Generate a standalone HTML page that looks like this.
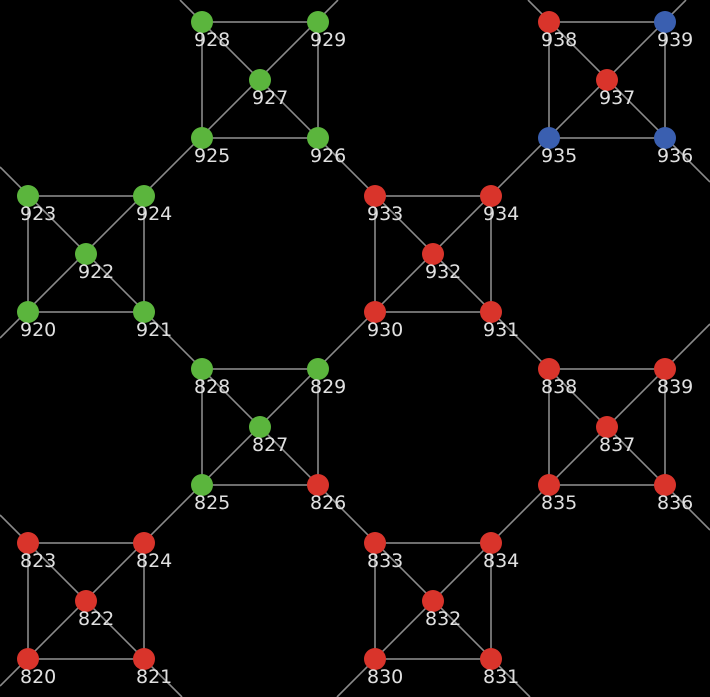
<!DOCTYPE html>
<html><head><style>
html,body{margin:0;padding:0;background:#000;}
svg{display:block;}
text{font-family:"DejaVu Sans","Liberation Sans",sans-serif;font-size:19px;fill:#e0e0e0;}
</style></head><body>
<svg width="710" height="697" viewBox="0 0 710 697" xmlns="http://www.w3.org/2000/svg">
<g stroke="#8a8a8a" stroke-width="1.6" fill="none">
<!-- x-y const lines (down-right) -->
<line x1="528" y1="0" x2="710" y2="182"/>
<line x1="180" y1="0" x2="710" y2="530"/>
<line x1="0" y1="167" x2="530" y2="697"/>
<line x1="0" y1="515" x2="182" y2="697"/>
<!-- x+y const lines (down-left) -->
<line x1="338" y1="0" x2="0" y2="338"/>
<line x1="686" y1="0" x2="0" y2="686"/>
<line x1="710" y1="324" x2="337" y2="697"/>
<!-- squares -->
<rect x="202" y="22" width="116" height="116"/>
<rect x="549" y="22" width="116" height="116"/>
<rect x="28" y="196" width="116" height="116"/>
<rect x="375" y="196" width="116" height="116"/>
<rect x="202" y="369" width="116" height="116"/>
<rect x="549" y="369" width="116" height="116"/>
<rect x="28" y="543" width="116" height="116"/>
<rect x="375" y="543" width="116" height="116"/>
</g>
<g>
<circle cx="202" cy="22" r="11" fill="#5bb53d"/><circle cx="318" cy="22" r="11" fill="#5bb53d"/><circle cx="260" cy="80" r="11" fill="#5bb53d"/><circle cx="202" cy="138" r="11" fill="#5bb53d"/><circle cx="318" cy="138" r="11" fill="#5bb53d"/>
<circle cx="549" cy="22" r="11" fill="#d9342b"/><circle cx="665" cy="22" r="11" fill="#3a5fb0"/><circle cx="607" cy="80" r="11" fill="#d9342b"/><circle cx="549" cy="138" r="11" fill="#3a5fb0"/><circle cx="665" cy="138" r="11" fill="#3a5fb0"/>
<circle cx="28" cy="196" r="11" fill="#5bb53d"/><circle cx="144" cy="196" r="11" fill="#5bb53d"/><circle cx="86" cy="254" r="11" fill="#5bb53d"/><circle cx="28" cy="312" r="11" fill="#5bb53d"/><circle cx="144" cy="312" r="11" fill="#5bb53d"/>
<circle cx="375" cy="196" r="11" fill="#d9342b"/><circle cx="491" cy="196" r="11" fill="#d9342b"/><circle cx="433" cy="254" r="11" fill="#d9342b"/><circle cx="375" cy="312" r="11" fill="#d9342b"/><circle cx="491" cy="312" r="11" fill="#d9342b"/>
<circle cx="202" cy="369" r="11" fill="#5bb53d"/><circle cx="318" cy="369" r="11" fill="#5bb53d"/><circle cx="260" cy="427" r="11" fill="#5bb53d"/><circle cx="202" cy="485" r="11" fill="#5bb53d"/><circle cx="318" cy="485" r="11" fill="#d9342b"/>
<circle cx="549" cy="369" r="11" fill="#d9342b"/><circle cx="665" cy="369" r="11" fill="#d9342b"/><circle cx="607" cy="427" r="11" fill="#d9342b"/><circle cx="549" cy="485" r="11" fill="#d9342b"/><circle cx="665" cy="485" r="11" fill="#d9342b"/>
<circle cx="28" cy="543" r="11" fill="#d9342b"/><circle cx="144" cy="543" r="11" fill="#d9342b"/><circle cx="86" cy="601" r="11" fill="#d9342b"/><circle cx="28" cy="659" r="11" fill="#d9342b"/><circle cx="144" cy="659" r="11" fill="#d9342b"/>
<circle cx="375" cy="543" r="11" fill="#d9342b"/><circle cx="491" cy="543" r="11" fill="#d9342b"/><circle cx="433" cy="601" r="11" fill="#d9342b"/><circle cx="375" cy="659" r="11" fill="#d9342b"/><circle cx="491" cy="659" r="11" fill="#d9342b"/>
</g>
<g>
<text x="194" y="46">928</text><text x="310" y="46">929</text><text x="252" y="104">927</text><text x="194" y="162">925</text><text x="310" y="162">926</text>
<text x="541" y="46">938</text><text x="657" y="46">939</text><text x="599" y="104">937</text><text x="541" y="162">935</text><text x="657" y="162">936</text>
<text x="20" y="220">923</text><text x="136" y="220">924</text><text x="78" y="278">922</text><text x="20" y="336">920</text><text x="136" y="336">921</text>
<text x="367" y="220">933</text><text x="483" y="220">934</text><text x="425" y="278">932</text><text x="367" y="336">930</text><text x="483" y="336">931</text>
<text x="194" y="393">828</text><text x="310" y="393">829</text><text x="252" y="451">827</text><text x="194" y="509">825</text><text x="310" y="509">826</text>
<text x="541" y="393">838</text><text x="657" y="393">839</text><text x="599" y="451">837</text><text x="541" y="509">835</text><text x="657" y="509">836</text>
<text x="20" y="567">823</text><text x="136" y="567">824</text><text x="78" y="625">822</text><text x="20" y="683">820</text><text x="136" y="683">821</text>
<text x="367" y="567">833</text><text x="483" y="567">834</text><text x="425" y="625">832</text><text x="367" y="683">830</text><text x="483" y="683">831</text>
</g>
</svg>
</body></html>
